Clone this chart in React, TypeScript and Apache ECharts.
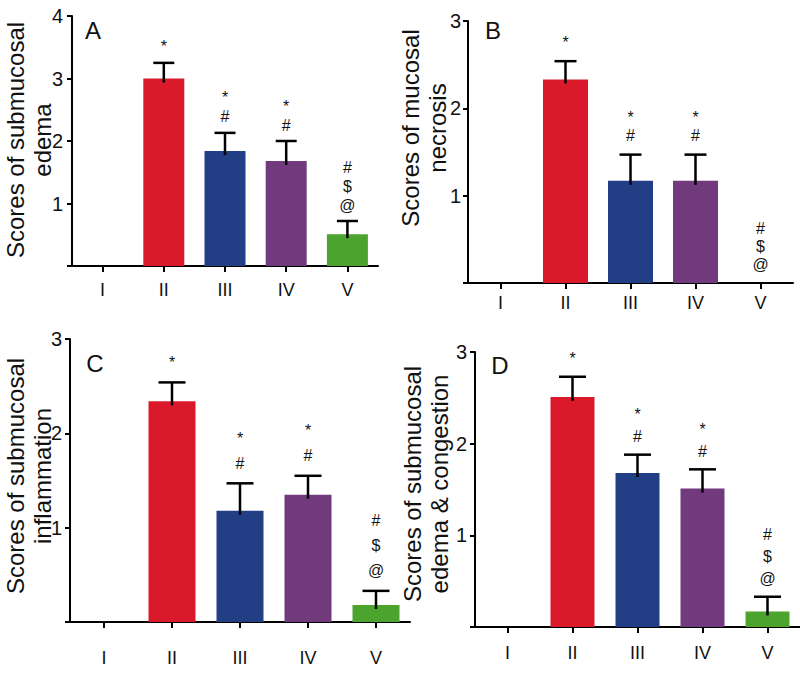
import React, { useEffect, useRef } from "react";
import * as echarts from "echarts";

const categories = ["I", "II", "III", "IV", "V"];
const barColors = ["#DA1A2B", "#DA1A2B", "#223F85", "#703A7C", "#4CA42F"];

const edemaMean = [0, 3.0, 1.84, 1.68, 0.51];
const edemaSem = [0, 0.25, 0.29, 0.32, 0.21];
const necrosisMean = [0, 2.33, 1.17, 1.17, 0];
const necrosisSem = [0, 0.21, 0.3, 0.3, 0];
const inflammationMean = [0, 2.34, 1.18, 1.35, 0.18];
const inflammationSem = [0, 0.2, 0.29, 0.2, 0.15];
const congestionMean = [0, 2.51, 1.68, 1.51, 0.17];
const congestionSem = [0, 0.22, 0.2, 0.21, 0.16];

// significance marks, listed bottom to top
const marksA = [[], ["*"], ["#", "*"], ["#", "*"], ["@", "$", "#"]];
const marksB = [[], ["*"], ["#", "*"], ["#", "*"], ["@", "$", "#"]];
const marksC = [[], ["*"], ["#", "*"], ["#", "*"], ["@", "$", "#"]];
const marksD = [[], ["*"], ["#", "*"], ["#", "*"], ["@", "$", "#"]];

const yMaxA = 4;
const yMaxB = 3;
const yMaxC = 3;
const yMaxD = 3;

const FONT = "'Liberation Sans', Arial, Helvetica, sans-serif";

type Panel = {
  letter: string;
  title: string;
  mean: number[];
  sem: number[];
  marks: string[][];
  yMax: number;
  grid: { left: number; top: number; width: number; height: number };
  barWidth: number;
  capWidth: number;
  gap: number;
  spacing: number;
  xMargin: number;
  yMargin: number;
  letterPos: [number, number];
  titlePos: [number, number];
};

const panels: Panel[] = [
  {
    letter: "A",
    title: "Scores of submucosal\nedema",
    mean: edemaMean,
    sem: edemaSem,
    marks: marksA,
    yMax: yMaxA,
    grid: { left: 72, top: 16, width: 306, height: 250 },
    barWidth: 41,
    capWidth: 21,
    gap: 16,
    spacing: 19,
    xMargin: 15,
    yMargin: 9,
    letterPos: [93, 30],
    titlePos: [29, 140],
  },
  {
    letter: "B",
    title: "Scores of mucosal\nnecrosis",
    mean: necrosisMean,
    sem: necrosisSem,
    marks: marksB,
    yMax: yMaxB,
    grid: { left: 468, top: 21, width: 325, height: 262 },
    barWidth: 45,
    capWidth: 22,
    gap: 19,
    spacing: 18,
    xMargin: 11,
    yMargin: 7,
    letterPos: [493, 30],
    titlePos: [424, 128],
  },
  {
    letter: "C",
    title: "Scores of submucosal\ninflammation",
    mean: inflammationMean,
    sem: inflammationSem,
    marks: marksC,
    yMax: yMaxC,
    grid: { left: 70, top: 339, width: 340, height: 283 },
    barWidth: 47,
    capWidth: 27,
    gap: 20,
    spacing: 25,
    xMargin: 27,
    yMargin: 8,
    letterPos: [95, 363],
    titlePos: [29, 476],
  },
  {
    letter: "D",
    title: "Scores of submucosal\nedema & congestion",
    mean: congestionMean,
    sem: congestionSem,
    marks: marksD,
    yMax: yMaxD,
    grid: { left: 475, top: 352, width: 325, height: 275 },
    barWidth: 44,
    capWidth: 27,
    gap: 18,
    spacing: 22,
    xMargin: 17,
    yMargin: 8,
    letterPos: [500, 365],
    titlePos: [426, 484],
  },
];

export default function App() {
  const ref = useRef<HTMLDivElement>(null);

  useEffect(() => {
    if (!ref.current) return;
    const chart = echarts.init(ref.current, null, { renderer: "svg" });

    const grids: any[] = [];
    const xAxes: any[] = [];
    const yAxes: any[] = [];
    const series: any[] = [];
    const graphics: any[] = [];

    panels.forEach((p, gi) => {
      grids.push({ ...p.grid, containLabel: false });
      xAxes.push({
        type: "category",
        gridIndex: gi,
        data: categories,
        axisLine: { lineStyle: { color: "#000", width: 2 } },
        axisTick: { show: true, alignWithLabel: true, length: 6, lineStyle: { color: "#000", width: 2 } },
        axisLabel: { color: "#111", fontSize: 18, fontFamily: FONT, margin: p.xMargin },
        splitLine: { show: false },
      });
      yAxes.push({
        type: "value",
        gridIndex: gi,
        min: 0,
        max: p.yMax,
        interval: 1,
        axisLine: { show: true, lineStyle: { color: "#000", width: 2 } },
        axisTick: { show: true, length: 5, lineStyle: { color: "#000", width: 2 } },
        axisLabel: {
          color: "#111",
          fontSize: 20,
          fontFamily: FONT,
          margin: p.yMargin,
          formatter: (v: number) => (v === 0 ? "" : String(v)),
        },
        splitLine: { show: false },
      });

      series.push({
        type: "bar",
        xAxisIndex: gi,
        yAxisIndex: gi,
        barWidth: p.barWidth,
        data: p.mean.map((m, i) => ({ value: m, itemStyle: { color: barColors[i] } })),
        z: 2,
      });

      const cap = p.capWidth;
      series.push({
        type: "custom",
        xAxisIndex: gi,
        yAxisIndex: gi,
        z: 3,
        data: p.mean.map((m, i) => [i, m, p.sem[i]]),
        renderItem: (params: any, api: any) => {
          const idx = api.value(0);
          const m = api.value(1);
          const s = api.value(2);
          if (!(s > 0)) return null;
          const top = api.coord([idx, m + s]);
          const base = api.coord([idx, m]);
          const st = { stroke: "#000", lineWidth: 2.5 };
          return {
            type: "group",
            children: [
              { type: "line", shape: { x1: top[0], y1: base[1] + 4, x2: top[0], y2: top[1] }, style: st },
              { type: "line", shape: { x1: top[0] - cap / 2, y1: top[1], x2: top[0] + cap / 2, y2: top[1] }, style: st },
            ],
          };
        },
      });

      const marks = p.marks;
      series.push({
        type: "custom",
        xAxisIndex: gi,
        yAxisIndex: gi,
        z: 4,
        data: p.mean.map((m, i) => [i, m + p.sem[i]]),
        renderItem: (params: any, api: any) => {
          const idx = api.value(0);
          const v = api.value(1);
          const list = marks[idx] || [];
          if (!list.length) return null;
          const pt = api.coord([idx, v]);
          return {
            type: "group",
            children: list.map((t: string, k: number) => ({
              type: "text",
              x: pt[0],
              y: pt[1] - p.gap - k * p.spacing,
              style: {
                text: t,
                font: `${t === "*" ? 16 : 16}px ${FONT}`,
                fill: "#111",
                textAlign: "center",
                textVerticalAlign: "middle",
              },
            })),
          };
        },
      });

      graphics.push({
        type: "text",
        x: p.letterPos[0],
        y: p.letterPos[1],
        style: {
          text: p.letter,
          font: `24px ${FONT}`,
          fill: "#111",
          textAlign: "center",
          textVerticalAlign: "middle",
        },
      });
      graphics.push({
        type: "text",
        x: p.titlePos[0],
        y: p.titlePos[1],
        rotation: Math.PI / 2,
        style: {
          text: p.title,
          font: `24px ${FONT}`,
          lineHeight: 27,
          fill: "#111",
          textAlign: "center",
          textVerticalAlign: "middle",
        },
      });
    });

    chart.setOption({
      animation: false,
      backgroundColor: "#fff",
      grid: grids,
      xAxis: xAxes,
      yAxis: yAxes,
      series,
      graphic: graphics,
    });

    return () => chart.dispose();
  }, []);

  return (
    <div
      ref={ref}
      style={{ position: "fixed", left: 0, top: 0, width: 800, height: 673, background: "#fff" }}
    />
  );
}
